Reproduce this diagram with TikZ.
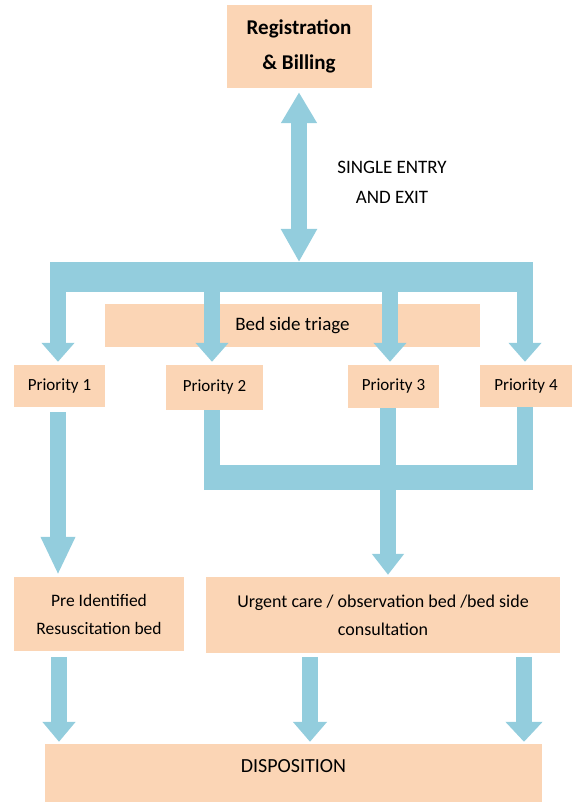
\documentclass[tikz,border=0pt]{standalone}
\usepackage{fontspec}
\setmainfont{Carlito}
\usetikzlibrary{arrows.meta}
\definecolor{peach}{RGB}{251,213,181}
\definecolor{flowblue}{RGB}{147,205,221}

\begin{document}
\begin{tikzpicture}[x=1pt,y=-1pt,>={Triangle[width=32pt,length=19pt]}]
                \tikzset{box/.style={fill=peach, inner sep=0pt, align=center, font=\fontsize{19}{28}\selectfont},
                         prio/.style={box, minimum height=42pt, font=\fontsize{17}{20}\selectfont},
                         pipe/.style={draw=flowblue, line width=16pt},
                         bus/.style={draw=flowblue, line width=#1}}
                \useasboundingbox (0,0) rectangle (574,802);
                \node[box, minimum width=145pt, minimum height=83pt, font=\fontsize{21}{35}\selectfont\bfseries] (reg) at (299,46.5) {Registration\\\& Billing};
                \node[align=center, font=\fontsize{19}{30}\selectfont] (entry) at (392,182) {SINGLE ENTRY\\AND EXIT};
                \node[box, minimum width=375pt, minimum height=43pt] (triage) at (292.5,325.5) {Bed side triage};
                \node[prio, minimum width=91pt] (p1) at (59.5,386) {Priority 1};
                \node[prio, minimum width=97pt, minimum height=45pt] (p2) at (214.5,387.5) {Priority 2};
                \node[prio, minimum width=91pt, minimum height=43pt] (p3) at (393.5,386.5) {Priority 3};
                \node[prio, minimum width=92pt] (p4) at (526,386) {Priority 4};
                \node[box, minimum width=170pt, minimum height=74pt, font=\fontsize{17.5}{28}\selectfont] (resus) at (99,614) {Pre Identified\\Resuscitation bed};
                \node[box, minimum width=354pt, minimum height=76pt, font=\fontsize{18}{28}\selectfont] (urgent) at (383,615) {Urgent care / observation bed /bed side\\consultation};
                \node[box, minimum width=497pt, minimum height=58pt, text height=13pt, text depth=14pt, font=\fontsize{20}{24}\selectfont] (disp) at (293.5,773) {DISPOSITION};
                % split bar under the entry arrow
                \coordinate (splitL) at (50,277);
                \coordinate (splitR) at (533,277);
                \coordinate (mergeL) at (204,477.5);
                \coordinate (mergeR) at (533,477.5);
                \draw[bus=30pt] (splitL) -- (splitR);
                \draw[pipe, {Triangle[width=34pt,length=31pt]}-{Triangle[width=34pt,length=33pt]}, shorten <=4pt, shorten >=15pt] (reg.south) -- (reg.south |- splitL);
                \draw[pipe, ->, shorten >=3pt] (58,277) -- (58,365 |- p1.north);
                \draw[pipe, ->, shorten >=3pt] (212,277) -- (212,365 |- p2.north);
                \draw[pipe, ->, shorten >=3pt] (390,277) -- (390,365 |- p3.north);
                \draw[pipe, ->, shorten >=3pt] (525,277) -- (525,365 |- p4.north);
                % joining bar for priority 2 to 4
                \draw[bus=25pt] (mergeL) -- (mergeR);
                \draw[pipe] (212,400 |- p2.south) -- (212,490);
                \draw[pipe] (388,400 |- p3.south) -- (388,490);
                \draw[pipe] (525,400 |- p4.south) -- (525,490);
                \draw[pipe, ->, >={Triangle[width=32pt,length=38pt]}, shorten <=5pt, shorten >=2pt] (58,400 |- p1.south) -- (58,500 |- resus.north);
                \draw[pipe, ->, >={Triangle[width=31pt,length=21pt]}, shorten >=2pt] (388,477.5) -- (388,500 |- urgent.north);
                \draw[pipe, ->, >={Triangle[width=32pt,length=20pt]}, shorten <=6pt, shorten >=2pt] (59,600 |- resus.south) -- (59,700 |- disp.north);
                \draw[pipe, ->, >={Triangle[width=33pt,length=20pt]}, shorten <=4pt, shorten >=2pt] (310,600 |- urgent.south) -- (310,700 |- disp.north);
                \draw[pipe, ->, >={Triangle[width=36pt,length=20pt]}, shorten <=4pt, shorten >=2pt] (524,600 |- urgent.south) -- (524,700 |- disp.north);
            \end{tikzpicture}
\end{document}
